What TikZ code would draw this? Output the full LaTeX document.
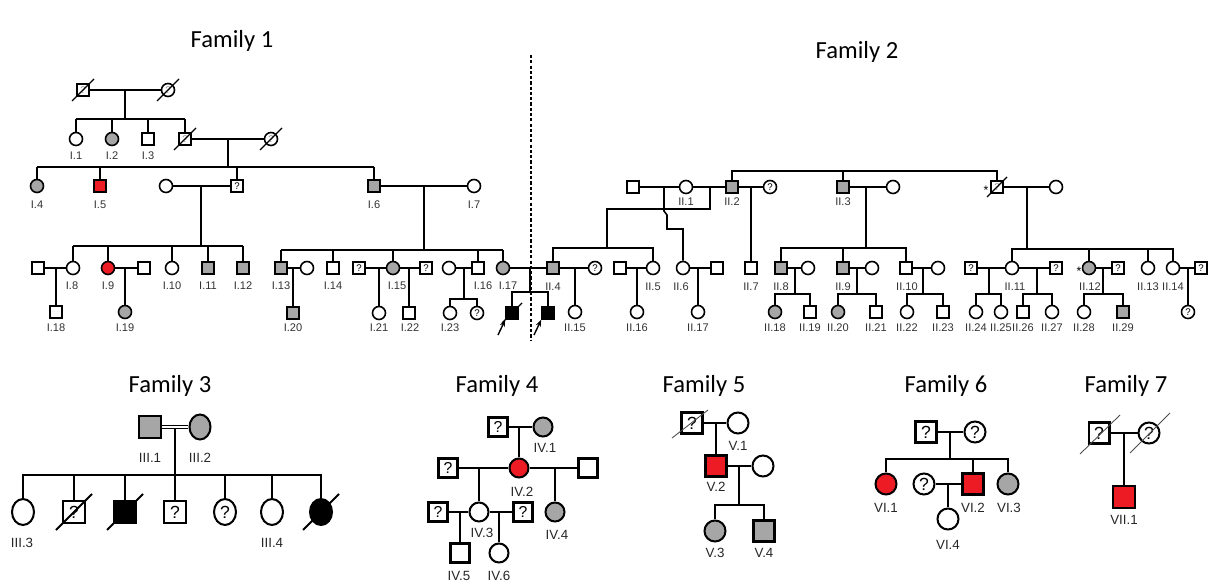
\documentclass[tikz,border=0pt]{standalone}
\usepackage{fontspec}
\setmainfont{Liberation Sans}
\newfontfamily\famfont{Carlito}
\usetikzlibrary{calc,arrows.meta,shapes.geometric}
\definecolor{affgrey}{RGB}{166,166,166}
\definecolor{affred}{RGB}{237,28,36}
\definecolor{labgrey}{RGB}{50,50,50}
\tikzset{
  sq/.style={draw, rectangle, minimum size=#1, inner sep=0pt},
  sq/.default=0.24cm,
  ci/.style={draw, circle, minimum size=#1, inner sep=0pt},
  ci/.default=0.26cm,
  el/.style={draw, ellipse, minimum width=0.44cm, minimum height=0.52cm, inner sep=0pt},
  af/.style={fill=affgrey},
  rd/.style={fill=affred},
  bk/.style={fill=black},
  qs/.style={font=\fontsize{5.5}{5.5}\selectfont},
  qf/.style={font=\fontsize{5.5}{5.5}\selectfont, text=black!45},
  qb/.style={font=\fontsize{10}{10}\selectfont},
  qm/.style={font=\fontsize{9}{9}\selectfont},
  lab/.style={font=\fontsize{6.3}{6.3}\selectfont, text=labgrey, inner sep=0pt},
  labb/.style={font=\fontsize{7.6}{7.6}\selectfont, text=black!85, inner sep=0pt},
  ttl/.style={font=\famfont\fontsize{14}{14}\selectfont, inner sep=0pt},
  deadln/.style={line width=0.8pt},
  deadthick/.style={line width=1.2pt},
  deadthin/.style={line width=0.5pt, black!70},
  proband/.style={-{Stealth[length=4pt,width=3pt]}, line width=0.8pt},
}
% slash through a deceased individual
\newcommand{\deadmark}[3][deadln]{\draw[#1] ($(#2)+(-#3,#3)$) -- ($(#2)+(#3,-#3)$);}

\begin{document}
\begin{tikzpicture}[x=0.02cm, y=-0.02cm]
\path[use as bounding box] (0,0) rectangle (1208,584);

% ---------- titles ----------
\node[ttl] (t1) at (232,41) {Family 1};
\node[ttl] (t2) at (857,52) {Family 2};
\node[ttl] (t3) at (170,386) {Family 3};
\node[ttl] (t4) at (497,386) {Family 4};
\node[ttl] (t5) at (704,386) {Family 5};
\node[ttl] (t6) at (946,386) {Family 6};
\node[ttl] (t7) at (1126,386) {Family 7};

% separator between families 1 and 2
\coordinate (sepA) at (531,55);
\coordinate (sepB) at (531,340);
\draw[line width=0.8pt, dash pattern=on 1.8pt off 1.2pt] (sepA) -- (sepB);

\begin{scope}[line width=0.9pt]
% ================= Family 1 =================
\node[sq,qf] (f1gm) at (83,90) {?};
\node[ci,qf] (f1gf) at (168,90) {?};
\deadmark{f1gm}{11}
\deadmark{f1gf}{11}
\draw (f1gm) -- (f1gf);
\coordinate (f1j0) at (125,90);
\coordinate (f1s0) at (125,119);
\draw (f1j0) -- (f1s0);
\node[ci] (I1) at (76,139) {};
\node[ci,af] (I2) at (112,139) {};
\node[sq] (I3) at (148,139) {};
\node[sq,qf] (f1pm) at (185,139) {?};
\node[ci,qf] (f1pf) at (271,139) {?};
\deadmark{f1pm}{11}
\deadmark{f1pf}{11}
\draw (I1 |- f1s0) -- (f1pm |- f1s0);
\foreach \c in {I1,I2,I3,f1pm} \draw (\c) -- (\c |- f1s0);
\draw (f1pm) -- (f1pf);
\coordinate (f1j1) at (228,139);
\coordinate (f1s1) at (228,167);
\draw (f1j1) -- (f1s1);
\node[ci,af] (I4) at (37,186) {};
\node[sq,rd] (I5) at (100,186) {};
\node[sq,qs] (f1qa) at (237,186) {?};
\node[sq,af] (I6) at (374,186) {};
\draw (I4 |- f1s1) -- (I6 |- f1s1);
\foreach \c in {I4,I5,f1qa,I6} \draw (\c) -- (\c |- f1s1);
% couple with the unknown son
\node[ci] (f1wa) at (166,186) {};
\draw (f1wa) -- (f1qa);
\coordinate (f1ja) at (201,186);
\coordinate (f1sa) at (201,246);
\draw (f1ja) -- (f1sa);
\node[ci] (I8) at (73,268) {};
\node[ci,rd] (I9) at (108,268) {};
\node[ci] (I10) at (172,268) {};
\node[sq,af] (I11) at (208,268) {};
\node[sq,af] (I12) at (243,268) {};
\draw (I8 |- f1sa) -- (I12 |- f1sa);
\foreach \c in {I8,I9,I10,I11,I12} \draw (\c) -- (\c |- f1sa);
\node[sq] (f1h8) at (38,268) {};
\draw (f1h8) -- (I8);
\coordinate (f1j8) at (56,268);
\node[sq] (I18) at (56,312) {};
\draw (f1j8) -- (I18);
\node[sq] (f1h9) at (144,268) {};
\draw (I9) -- (f1h9);
\coordinate (f1j9) at (125,268);
\node[ci,af] (I19) at (125,312) {};
\draw (f1j9) -- (I19);
% I.6 and I.7
\node[ci] (I7) at (474,186) {};
\draw (I6) -- (I7);
\coordinate (f1jb) at (424,186);
\coordinate (f1sb) at (424,250);
\draw (f1jb) -- (f1sb);
\node[sq,af] (I13) at (281,268) {};
\node[sq] (I14) at (333,268) {};
\node[ci,af] (I15) at (393,268) {};
\node[sq] (I16) at (478,268) {};
\node[ci,af] (I17) at (503,268) {};
\draw (I13 |- f1sb) -- (I17 |- f1sb);
\foreach \c in {I13,I14,I15,I16,I17} \draw (\c) -- (\c |- f1sb);
\node[ci] (f1w13) at (307,268) {};
\draw (I13) -- (f1w13);
\coordinate (f1j13) at (293,268);
\node[sq,af] (I20) at (293,313) {};
\draw (f1j13) -- (I20);
\node[sq,qs] (f1h15a) at (359,268) {?};
\node[sq,qs] (f1h15b) at (426,268) {?};
\draw (f1h15a) -- (I15) -- (f1h15b);
\coordinate (f1j15a) at (379,268);
\coordinate (f1j15b) at (409,268);
\node[ci] (I21) at (379,313) {};
\node[sq] (I22) at (409,313) {};
\draw (f1j15a) -- (I21);
\draw (f1j15b) -- (I22);
\node[ci] (f1w16) at (449,268) {};
\draw (f1w16) -- (I16);
\coordinate (f1j16) at (464,268);
\coordinate (f1s16) at (464,299);
\draw (f1j16) -- (f1s16);
\node[ci] (I23) at (450,313) {};
\node[ci,qs] (f1q16) at (477,313) {?};
\draw (I23) |- (f1s16) -| (f1q16);

% ================= Family 2 =================
\node[sq] (f2a) at (633,187) {};
\node[ci] (II1) at (686,187) {};
\node[sq,af] (II2) at (732,187) {};
\node[ci,qs] (f2b) at (770,187) {?};
\node[sq,af] (II3) at (843,187) {};
\node[ci] (f2c) at (893,187) {};
\node[sq,qf] (f2d) at (997,187) {?};
\deadmark{f2d}{10}
\node[ci] (f2e) at (1056,187) {};
\node[font=\fontsize{7}{7}\selectfont] (star1) at (986,190) {*};
\coordinate (f2top) at (732,171);
\draw (II2) -- (II2 |- f2top) -- (f2d |- f2top) -- (f2d);
\draw (II3) -- (II3 |- f2top);
\draw (f2a) -- (II1) -- (II2) -- (f2b);
\draw (II3) -- (f2c);
\draw (f2d) -- (f2e);
% children of II.1
\coordinate (f2j1) at (664,187);
\coordinate (f2j2) at (710,187);
\coordinate (f2k) at (607,209);
\coordinate (f2s1) at (607,248);
\draw (f2j2) |- (f2k) -- (f2s1);
\node[sq,af] (II4) at (553,268) {};
\node[ci] (II5) at (653,268) {};
\draw (II4) |- (f2s1) -| (II5);
\node[ci] (II6) at (683,268) {};
\coordinate (f2h1) at (664,211);
\coordinate (f2h2) at (667,215);
\coordinate (f2h3) at (667,229);
\draw (f2j1) -- (f2h1) -- (f2h2) -- (f2h3) -| (II6);
% I.17 x II.4 and the two probands
\draw (I17) -- (II4);
\coordinate (f12j) at (530,268);
\coordinate (f12s) at (530,292);
\draw (f12j) -- (f12s);
\node[sq,bk] (P1) at (512,313) {};
\node[sq,bk] (P2) at (548,313) {};
\draw (P1) |- (f12s) -| (P2);
\deadmark{P1}{10}
\coordinate (pa1) at (498,335);
\coordinate (pa2) at (534,335);
\draw[proband] (pa1) -- (P1.south west);
\draw[proband] (pa2) -- (P2.south west);
% spouses in generation II
\node[ci,qs] (f2w4) at (595,268) {?};
\draw (II4) -- (f2w4);
\coordinate (f2j4) at (575,268);
\node[ci] (II15) at (575,312) {};
\draw (f2j4) -- (II15);
\node[sq] (f2w5) at (620,268) {};
\draw (f2w5) -- (II5);
\coordinate (f2j5) at (637,268);
\node[ci] (II16) at (637,312) {};
\draw (f2j5) -- (II16);
\node[sq] (f2w6) at (717,268) {};
\draw (II6) -- (f2w6);
\coordinate (f2j6) at (698,268);
\node[ci] (II17) at (698,312) {};
\draw (f2j6) -- (II17);
\node[sq] (II7) at (751,268) {};
\coordinate (f2j7) at (751,187);
\draw (f2j7) -- (II7);
% children of II.3
\coordinate (f2j3) at (866,187);
\coordinate (f2s3) at (866,248);
\draw (f2j3) -- (f2s3);
\node[sq,af] (II8) at (781,268) {};
\node[sq,af] (II9) at (843,268) {};
\node[sq] (II10) at (906,268) {};
\draw (II8) |- (f2s3) -| (II10);
\draw (II9) -- (II9 |- f2s3);
\node[ci] (f2w8) at (808,268) {};
\node[ci] (f2w9) at (872,268) {};
\node[ci] (f2w10) at (938,268) {};
\draw (II8) -- (f2w8);
\draw (II9) -- (f2w9);
\draw (II10) -- (f2w10);
\coordinate (f2j8) at (795,268);
\coordinate (f2s8) at (795,294);
\draw (f2j8) -- (f2s8);
\node[ci,af] (II18) at (775,312) {};
\node[sq] (II19) at (810,312) {};
\draw (II18) |- (f2s8) -| (II19);
\coordinate (f2j9) at (857,268);
\coordinate (f2s9) at (857,294);
\draw (f2j9) -- (f2s9);
\node[ci,af] (II20) at (838,312) {};
\node[sq] (II21) at (876,312) {};
\draw (II20) |- (f2s9) -| (II21);
\coordinate (f2j10) at (923,268);
\coordinate (f2s10) at (923,294);
\draw (f2j10) -- (f2s10);
\node[ci] (II22) at (907,312) {};
\node[sq] (II23) at (943,312) {};
\draw (II22) |- (f2s10) -| (II23);
% children of the deceased man
\coordinate (f2jd) at (1027,187);
\coordinate (f2sd) at (1027,249);
\draw (f2jd) -- (f2sd);
\node[ci] (II11) at (1012,268) {};
\node[ci,af] (II12) at (1089,268) {};
\node[ci] (II13) at (1148,268) {};
\node[ci] (II14) at (1173,268) {};
\draw (II11) |- (f2sd) -| (II14);
\draw (II12) -- (II12 |- f2sd);
\draw (II13) -- (II13 |- f2sd);
\node[font=\fontsize{7}{7}\selectfont] (star2) at (1079,271) {*};
\node[sq,qs] (f2w11a) at (971,268) {?};
\node[sq,qs] (f2w11b) at (1056,268) {?};
\draw (f2w11a) -- (II11) -- (f2w11b);
\coordinate (f2j11a) at (989,268);
\coordinate (f2s11a) at (989,294);
\draw (f2j11a) -- (f2s11a);
\node[ci] (II24) at (976,312) {};
\node[ci] (II25) at (1001,312) {};
\draw (II24) |- (f2s11a) -| (II25);
\coordinate (f2j11b) at (1037,268);
\coordinate (f2s11b) at (1037,294);
\draw (f2j11b) -- (f2s11b);
\node[sq] (II26) at (1023,312) {};
\node[ci] (II27) at (1052,312) {};
\draw (II26) |- (f2s11b) -| (II27);
\node[sq,qs] (f2w12) at (1118,268) {?};
\draw (II12) -- (f2w12);
\coordinate (f2j12) at (1103,268);
\coordinate (f2s12) at (1103,294);
\draw (f2j12) -- (f2s12);
\node[ci] (II28) at (1084,312) {};
\node[sq,af] (II29) at (1123,312) {};
\draw (II28) |- (f2s12) -| (II29);
\node[sq,qs] (f2w14) at (1201,268) {?};
\draw (II14) -- (f2w14);
\coordinate (f2j14) at (1188,268);
\node[ci,qs] (f2c14) at (1188,312) {?};
\draw (f2j14) -- (f2c14);
\end{scope}

% labels of families 1 and 2
\foreach \t/\x/\y [count=\k] in {I.1/76/156, I.2/112/156, I.3/148/156,
  I.4/37/205, I.5/100/205, I.6/374/205, I.7/474/205,
  I.8/72/286, I.9/108/286, I.10/172/286, I.11/208/286, I.12/243/286,
  I.13/281/286, I.14/333/286, I.15/397/286, I.16/483/286, I.17/508/286,
  I.18/56/328, I.19/125/328, I.20/293/328, I.21/379/328, I.22/410/328, I.23/450/328,
  II.1/686/202, II.2/732/202, II.3/843/202,
  II.4/553/287, II.5/653/287, II.6/681/287, II.7/751/287, II.8/781/287,
  II.9/843/287, II.10/907/287, II.11/1015/287, II.12/1090/287, II.13/1148/287,
  II.14/1173/287,
  II.15/575/328, II.16/637/328, II.17/698/328, II.18/775/328, II.19/810/328,
  II.20/838/328, II.21/876/328, II.22/907/328, II.23/943/328, II.24/976/328,
  II.25/1001/328, II.26/1023/328, II.27/1052/328, II.28/1084/328, II.29/1123/328}
  \node[lab] (lt\k) at (\x,\y) {\t};

\begin{scope}[line width=1.15pt]
% ================= Family 3 =================
\node[sq=0.44cm,af] (III1) at (150,427) {};
\node[el,af, minimum width=0.42cm, minimum height=0.5cm] (III2) at (200,427) {};
\draw[line width=0.8pt, double, double distance=1pt] (III1) -- (III2);
\coordinate (f3j) at (175,429);
\coordinate (f3s) at (175,475);
\draw (f3j) -- (f3s);
\node[el] (III3) at (23,512) {};
\node[sq=0.44cm,qb] (f3b) at (74,512) {?};
\node[sq=0.44cm,bk] (f3c) at (125,512) {};
\node[sq=0.44cm,qb] (f3d) at (175,512) {?};
\node[el,qb] (f3e) at (225,512) {?};
\node[el] (III4) at (272,512) {};
\node[el,bk] (f3g) at (321,512) {};
\draw (III3) |- (f3s) -| (f3g);
\foreach \c in {f3b,f3c,f3d,f3e,III4} \draw (\c) -- (\c |- f3s);
\deadmark[deadthick]{f3b}{18}
\deadmark[deadthick]{f3c}{18}
\deadmark[deadthick]{f3g}{18}

% ================= Family 4 =================
\node[sq=0.38cm,qm] (f4a) at (498,427) {?};
\node[ci=0.38cm,af] (IV1) at (543,427) {};
\draw (f4a) -- (IV1);
\coordinate (f4ja) at (519,427);
\node[ci=0.38cm,rd] (IV2) at (519,468) {};
\draw (f4ja) -- (IV2);
\node[sq=0.38cm,qm] (f4b) at (448,468) {?};
\node[sq=0.38cm] (f4c) at (588,468) {};
\draw (f4b) -- (IV2) -- (f4c);
\coordinate (f4jb) at (479,468);
\node[ci=0.38cm] (IV3) at (479,512) {};
\draw (f4jb) -- (IV3);
\coordinate (f4jc) at (555,468);
\node[ci=0.38cm,af] (IV4) at (555,512) {};
\draw (f4jc) -- (IV4);
\node[sq=0.38cm,qm] (f4d) at (438,512) {?};
\node[sq=0.38cm,qm] (f4e) at (523,512) {?};
\draw (f4d) -- (IV3) -- (f4e);
\coordinate (f4jd) at (460,512);
\node[sq=0.38cm] (IV5) at (460,553) {};
\draw (f4jd) -- (IV5);
\coordinate (f4je) at (499,512);
\node[ci=0.38cm] (IV6) at (499,553) {};
\draw (f4je) -- (IV6);

% ================= Family 5 =================
\node[sq=0.42cm,qb] (f5a) at (692,423) {?};
\draw[deadthin] ($(f5a)+(-20,15)$) -- ($(f5a)+(16,-13)$);
\node[ci=0.42cm] (V1) at (738,423) {};
\draw (f5a) -- (V1);
\coordinate (f5ja) at (716,423);
\node[sq=0.42cm,rd] (V2) at (716,466) {};
\draw (f5ja) -- (V2);
\node[ci=0.42cm] (f5w) at (763,466) {};
\draw (V2) -- (f5w);
\coordinate (f5jb) at (739,466);
\coordinate (f5s) at (739,505);
\draw (f5jb) -- (f5s);
\node[ci=0.42cm,af] (V3) at (715,531) {};
\node[sq=0.42cm,af] (V4) at (764,531) {};
\draw (V3) |- (f5s) -| (V4);

% ================= Family 6 =================
\node[sq=0.42cm,qb] (f6a) at (926,432) {?};
\node[ci=0.42cm,qb] (f6b) at (975,432) {?};
\draw (f6a) -- (f6b);
\coordinate (f6ja) at (950,432);
\coordinate (f6s) at (950,459);
\draw (f6ja) -- (f6s);
\node[ci=0.42cm,rd] (VI1) at (886,484) {};
\node[sq=0.42cm,rd] (VI2) at (973,484) {};
\node[ci=0.42cm,af] (VI3) at (1008,484) {};
\draw (VI1) |- (f6s) -| (VI3);
\draw (VI2) -- (VI2 |- f6s);
\node[ci=0.42cm,qb] (f6w) at (924,484) {?};
\draw (f6w) -- (VI2);
\coordinate (f6jb) at (948,484);
\node[ci=0.42cm] (VI4) at (948,519) {};
\draw (f6jb) -- (VI4);

% ================= Family 7 =================
\node[sq=0.42cm,qb] (f7a) at (1099,433) {?};
\node[ci=0.42cm,qb] (f7b) at (1149,433) {?};
\draw[deadthin] ($(f7a)+(-19,21)$) -- ($(f7a)+(21,-18)$);
\draw[deadthin] ($(f7b)+(-19,20)$) -- ($(f7b)+(21,-20)$);
\draw (f7a) -- (f7b);
\coordinate (f7j) at (1124,433);
\node[sq=0.44cm,rd] (VII1) at (1124,497) {};
\draw (f7j) -- (VII1);
\end{scope}

% labels of families 3 to 7
\foreach \t/\x/\y [count=\k] in {III.1/150/458, III.2/200/458, III.3/22/543, III.4/272/543,
  IV.1/545/448, IV.2/522/492, IV.3/482/533, IV.4/557/535, IV.5/459/576, IV.6/499/576,
  V.1/738/446, V.2/716/487, V.3/715/553, V.4/764/553,
  VI.1/886/508, VI.2/973/508, VI.3/1009/508, VI.4/948/545, VII.1/1124/520}
  \node[labb] (lb\k) at (\x,\y) {\t};
\end{tikzpicture}
\end{document}
